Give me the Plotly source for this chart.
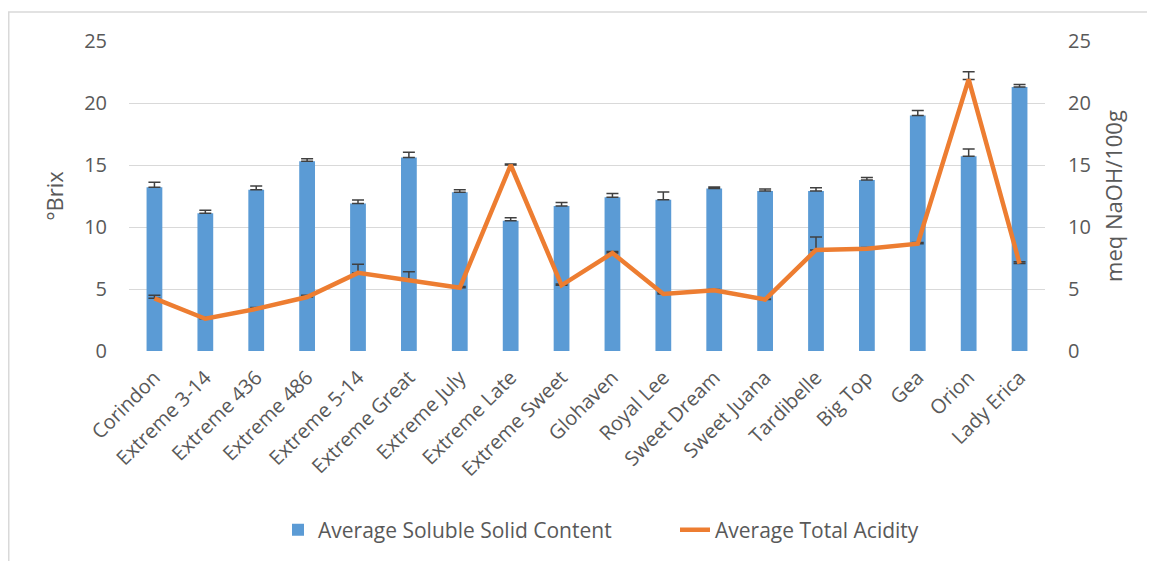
import plotly.graph_objects as go

categories = ["Corindon", "Extreme 3-14", "Extreme 436", "Extreme 486", "Extreme 5-14",
              "Extreme Great", "Extreme July", "Extreme Late", "Extreme Sweet", "Glohaven",
              "Royal Lee", "Sweet Dream", "Sweet Juana", "Tardibelle", "Big Top", "Gea",
              "Orion", "Lady Erica"]
ssc = [13.2, 11.1, 13.0, 15.3, 11.9, 15.6, 12.8, 10.5, 11.7, 12.4, 12.2, 13.1, 12.9, 12.9,
       13.8, 19.0, 15.7, 21.3]
ssc_err = [0.4, 0.25, 0.3, 0.2, 0.27, 0.43, 0.2, 0.24, 0.27, 0.3, 0.62, 0.13, 0.16, 0.27,
           0.19, 0.4, 0.59, 0.19]
acidity = [4.25, 2.6, 3.4, 4.35, 6.3, 5.7, 5.1, 15.0, 5.3, 7.9, 4.6, 4.9, 4.15, 8.15,
           8.25, 8.65, 21.9, 7.05]
acidity_err = [0.25, 0.1, 0.1, 0.15, 0.7, 0.7, 0.1, 0.08, 0.1, 0.12, 0.1, 0.05, 0.05, 1.05,
               0.1, 0.1, 0.62, 0.15]
y_ticks = [0, 5, 10, 15, 20, 25]

FONT = "Open Sans"
GREY = "#595959"
ERR = "#404040"

fig = go.Figure()
fig.add_trace(go.Bar(
    x=categories, y=ssc, name="Average Soluble Solid Content",
    marker=dict(color="#5B9BD5", line=dict(width=0)),
    error_y=dict(type="data", array=ssc_err, arrayminus=[0] * len(ssc_err),
                 color=ERR, thickness=1.5, width=6),
    yaxis="y",
))
fig.add_trace(go.Scatter(
    x=categories, y=acidity, name="Average Total Acidity", mode="lines",
    line=dict(color="#ED7D31", width=4.5),
    error_y=dict(type="data", array=acidity_err, arrayminus=[0] * len(acidity_err),
                 color=ERR, thickness=1.5, width=6),
    yaxis="y2",
))

# page has an 8px body margin; figure is sized/offset to compensate
OFF = 8
W, H = 1155 - OFF, 561 - OFF
PL, PR, PT, PB = 129, 1045, 41, 351          # plot area in page pixels
L, T = PL - OFF, PT - OFF
pw, ph = PR - PL, PB - PT
R, B = W - L - pw, H - T - ph

fig.update_layout(
    width=W, height=H,
    margin=dict(l=L, r=R, t=T, b=B, autoexpand=False),
    paper_bgcolor="white", plot_bgcolor="white",
    font=dict(family=FONT, size=20, color=GREY),
    bargap=0.69,
    showlegend=True,
    legend=dict(orientation="h", x=(278 - PL) / pw, xanchor="left",
                y=(PB - 530) / ph, yanchor="middle",
                entrywidth=352, entrywidthmode="pixels",
                font=dict(size=21, color=GREY),
                traceorder="normal"),
    xaxis=dict(tickangle=-45, showgrid=False, showline=False, ticks="",
               range=[-0.5, len(categories) - 0.5], ticklabelstandoff=10,
               tickfont=dict(size=20, color=GREY)),
    yaxis=dict(range=[0, 25], tickvals=y_ticks, showgrid=True, gridcolor="#D9D9D9",
               gridwidth=1, zeroline=False, showline=False, ticks="",
               ticklabelstandoff=21,
               title=dict(text="°Brix", standoff=14, font=dict(size=22, color=GREY)),
               tickfont=dict(size=20, color=GREY)),
    yaxis2=dict(range=[0, 25], tickvals=y_ticks, overlaying="y", side="right",
                showgrid=False, zeroline=False, showline=False, ticks="",
                ticklabelstandoff=22,
                title=dict(text="meq NaOH/100g", standoff=16, font=dict(size=22, color=GREY)),
                tickfont=dict(size=20, color=GREY)),
    shapes=[dict(type="rect", xref="paper", yref="paper",
                 x0=(0.75 - L) / pw, x1=1.5, y0=-1.5, y1=(T + ph - 4) / ph,
                 line=dict(color="#D9D9D9", width=1.5), fillcolor="rgba(0,0,0,0)",
                 layer="below")],
)

fig.write_html("out.html")
